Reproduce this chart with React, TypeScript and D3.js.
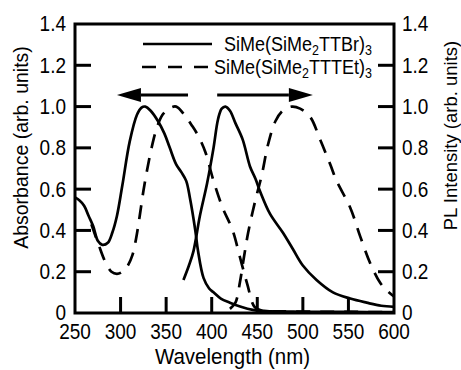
import * as d3 from 'd3'

const W = 461
const H = 370
const margin = { top: 24, right: 67, bottom: 57, left: 75 }

const xTicks = [250, 300, 350, 400, 450, 500, 550, 600]
const yTicks = [0, 0.2, 0.4, 0.6, 0.8, 1.0, 1.2, 1.4]

// absorption, SiMe(SiMe2TTBr)3
const absTTBr: [number, number][] = [
  [250, 0.56], [255, 0.545], [260, 0.52], [265, 0.47], [270, 0.42], [275, 0.35],
  [280, 0.33], [286, 0.34], [291, 0.39], [296, 0.47], [302, 0.62], [310, 0.83],
  [318, 0.96], [323, 0.995], [327, 1.0], [333, 0.98], [341, 0.93], [348, 0.87],
  [354, 0.8], [361, 0.72], [367, 0.68], [372, 0.64], [376, 0.56], [382, 0.4], [385, 0.3],
  [391, 0.17], [397, 0.12], [402, 0.1], [410, 0.07], [420, 0.05], [432, 0.03],
  [445, 0.015], [465, 0.008], [500, 0.006], [550, 0.005], [600, 0.004],
]
// PL, SiMe(SiMe2TTBr)3
const plTTBr: [number, number][] = [
  [369, 0.16], [375, 0.23], [380, 0.3], [387, 0.47], [395, 0.63], [402, 0.8],
  [407, 0.94], [411, 0.99], [415, 1.0], [420, 0.98], [426, 0.92], [434, 0.84],
  [442, 0.71], [448, 0.65], [453, 0.59], [464, 0.48], [478, 0.39], [489, 0.31],
  [500, 0.23], [515, 0.16], [533, 0.1], [552, 0.07], [570, 0.05], [586, 0.035],
  [600, 0.03],
]
// absorption, SiMe(SiMe2TTTEt)3
const absTTTEt: [number, number][] = [
  [268, 0.43], [276, 0.33], [283, 0.25], [290, 0.2], [296, 0.19], [302, 0.2],
  [308, 0.23], [313, 0.28], [317, 0.36], [321, 0.47], [325, 0.59], [329, 0.69],
  [334, 0.8], [340, 0.9], [346, 0.96], [353, 0.99], [361, 1.0], [370, 0.96],
  [378, 0.91], [385, 0.86], [393, 0.78], [402, 0.64], [412, 0.51], [423, 0.4],
  [431, 0.27], [439, 0.14], [447, 0.03], [455, 0.012], [480, 0.008], [520, 0.006],
  [560, 0.005], [600, 0.004],
]
// PL, SiMe(SiMe2TTTEt)3
const plTTTEt: [number, number][] = [
  [420, 0.02], [426, 0.05], [431, 0.15], [435, 0.26], [440, 0.39], [447, 0.53],
  [455, 0.67], [462, 0.82], [470, 0.93], [478, 0.98], [488, 1.0], [497, 0.99],
  [508, 0.95], [519, 0.84], [530, 0.72], [537, 0.64], [552, 0.51], [563, 0.37],
  [574, 0.24], [585, 0.145], [592, 0.11], [600, 0.08],
]

const legendNames = [
  { main: 'SiMe(SiMe', sub: '2', rest: 'TTBr)', sub2: '3', dash: false },
  { main: 'SiMe(SiMe', sub: '2', rest: 'TTTEt)', sub2: '3', dash: true },
]

// arrows in data units: [tail wavelength, head wavelength, level]
const arrows: [number, number, number][] = [
  [374, 296, 1.056],
  [406, 511, 1.056],
]

const FONT = '"Liberation Sans", Arial, Helvetica, sans-serif'
const DASH = '14 10'
const STRETCH = 1.12 // the scanned lettering is a little taller than Arial

export default function App() {
  const x = d3.scaleLinear().domain([250, 600]).range([margin.left, W - margin.right])
  const y = d3.scaleLinear().domain([0, 1.4]).range([H - margin.bottom, margin.top])
  const x0 = x.range()[0], x1 = x.range()[1]
  const y0 = y.range()[0], y1 = y.range()[1]

  const line = d3.line<[number, number]>()
    .x(d => x(d[0])).y(d => y(d[1]))
    .curve(d3.curveCatmullRom.alpha(0.5))

  const fmt = (v: number) => (v === 0 ? '0' : v.toFixed(1))
  const tickLen = 16
  const at = (px: number, py: number) => `translate(${px},${py}) scale(1,${STRETCH})`

  const curves = [
    { d: absTTBr, dash: false },
    { d: plTTBr, dash: false },
    { d: absTTTEt, dash: true },
    { d: plTTTEt, dash: true },
  ]

  return (
    <svg width={W} height={H} style={{ position: 'absolute', left: 0, top: 0, background: '#fff' }}
      fontFamily={FONT}>
      {/* curves */}
      {curves.map((c, i) => (
        <path key={i} d={line(c.d) || ''} fill="none" stroke="#000" strokeWidth={2.7}
          strokeDasharray={c.dash ? DASH : undefined} strokeLinejoin="round" />
      ))}

      {/* frame */}
      <rect x={x0} y={y1} width={x1 - x0} height={y0 - y1} fill="none" stroke="#000" strokeWidth={3} />

      {/* ticks */}
      {yTicks.filter(t => t > 0 && t < 1.4).map(t => (
        <g key={'yt' + t}>
          <line x1={x0} x2={x0 + tickLen} y1={y(t)} y2={y(t)} stroke="#000" strokeWidth={3} />
          <line x1={x1} x2={x1 - tickLen} y1={y(t)} y2={y(t)} stroke="#000" strokeWidth={3} />
        </g>
      ))}
      {xTicks.filter(t => t > 250 && t < 600).map(t => (
        <line key={'xt' + t} x1={x(t)} x2={x(t)} y1={y0} y2={y0 - tickLen} stroke="#000" strokeWidth={3} />
      ))}

      {/* tick labels */}
      {yTicks.map(t => (
        <g key={'yl' + t} fontSize={19}>
          <text transform={at(x0 - 9, y(t) + 7.4)} textAnchor="end">{fmt(t)}</text>
          <text transform={at(x1 + 8, y(t) + 7.4)} textAnchor="start">{fmt(t)}</text>
        </g>
      ))}
      {xTicks.map(t => (
        <text key={'xl' + t} transform={at(x(t), y0 + 26)} textAnchor="middle" fontSize={19}>{t}</text>
      ))}

      {/* axis titles */}
      <text transform={at((x0 + x1) / 2 - 2, 364)} textAnchor="middle" fontSize={20.5}>Wavelength (nm)</text>
      <text transform={`translate(28,${(y0 + y1) / 2 - 21}) rotate(-90)`} textAnchor="middle" fontSize={19.5}>
        Absorbance (arb. units)
      </text>
      <text transform={`translate(457,${(y0 + y1) / 2 - 33}) rotate(-90)`} textAnchor="middle" fontSize={18.5}>
        PL Intensity (arb. units)
      </text>

      {/* legend */}
      {legendNames.map((l, i) => {
        const ly = 44 + i * 23
        return (
          <g key={'lg' + i}>
            <line x1={i ? 142 : 143} x2={212} y1={ly} y2={ly} stroke="#000" strokeWidth={2.7}
              strokeDasharray={l.dash ? '14 12' : undefined} />
            <text transform={at(372, ly + 6.5)} textAnchor="end" fontSize={18}>
              {l.main}
              <tspan fontSize={12.5} dy={4}>{l.sub}</tspan>
              <tspan dy={-4}>{l.rest}</tspan>
              <tspan fontSize={12.5} dy={4}>{l.sub2}</tspan>
            </text>
          </g>
        )
      })}

      {/* arrows */}
      {arrows.map(([from, to, lv], i) => {
        const dir = Math.sign(x(to) - x(from))
        const tip = x(to)
        const base = tip - dir * 24
        const yy = y(lv)
        return (
          <g key={'ar' + i}>
            <line x1={x(from)} x2={base} y1={yy} y2={yy} stroke="#000" strokeWidth={3.2} />
            <polygon points={`${tip},${yy} ${base},${yy - 7} ${base},${yy + 7}`} fill="#000" />
          </g>
        )
      })}
    </svg>
  )
}
